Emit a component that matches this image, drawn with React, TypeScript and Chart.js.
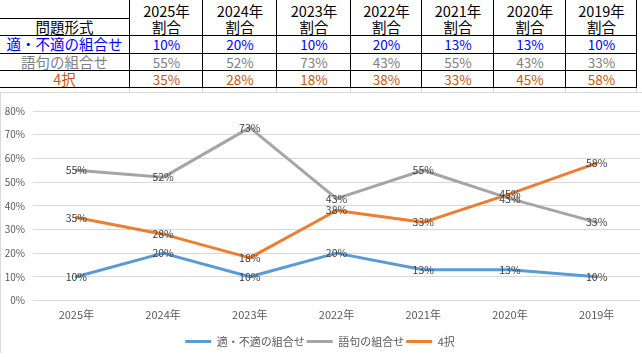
import React, { useEffect, useRef } from "react";
import { Chart, registerables } from "chart.js";

Chart.register(...registerables);

// ---- data ----
const years = ["2025年", "2024年", "2023年", "2022年", "2021年", "2020年", "2019年"];
const seriesNames = ["適・不適の組合せ", "語句の組合せ", "4択"];
const tekiFuteki = [10, 20, 10, 20, 13, 13, 10];
const gokuKumiawase = [55, 52, 73, 43, 55, 43, 33];
const yonTaku = [35, 28, 18, 38, 33, 45, 58];
const headerLabel = "問題形式";
const ratioLabel = "割合";
const yMin = 0;
const yMax = 80;
const yStep = 10;

// ---- styles ----
const lineColors = ["#5B9BD5", "#A5A5A5", "#ED7D31"];
const textColors = ["#0000FF", "#808080", "#C65911"];
const FONT = '"Noto Sans CJK JP", "Noto Sans", sans-serif';
const colEdges = [0, 129, 202, 276, 350, 421, 493, 565, 636];
const rowCenters = [45, 62.5, 80];

const valuePlugin = {
  id: "valueLabels",
  afterDatasetsDraw(chart: any) {
    const ctx = chart.ctx;
    ctx.save();
    ctx.font = `10.5px ${FONT}`;
    ctx.fillStyle = "#404040";
    ctx.textAlign = "center";
    ctx.textBaseline = "middle";
    chart.data.datasets.forEach((ds: any, i: number) => {
      const meta = chart.getDatasetMeta(i);
      meta.data.forEach((pt: any, j: number) => {
        ctx.fillText(`${ds.data[j]}%`, pt.x, pt.y);
      });
    });
    ctx.restore();
  },
};

function Txt(props: { x: number; y: number; w: number; color: string; size?: number; children: any }) {
  return (
    <div
      style={{
        position: "absolute",
        left: props.x,
        top: props.y - 11,
        width: props.w,
        height: 20,
        lineHeight: "20px",
        textAlign: "center",
        fontSize: props.size || 14.5,
        fontFamily: FONT,
        color: props.color,
        whiteSpace: "nowrap",
      }}
    >
      {props.children}
    </div>
  );
}

export default function App() {
  const canvasRef = useRef<HTMLCanvasElement | null>(null);

  useEffect(() => {
    if (!canvasRef.current) return;
    const allSeries = [tekiFuteki, gokuKumiawase, yonTaku];
    const chart = new Chart(canvasRef.current, {
      type: "line",
      data: {
        labels: years,
        datasets: allSeries.map((d, i) => ({
          label: seriesNames[i],
          data: d,
          borderColor: lineColors[i],
          backgroundColor: lineColors[i],
          borderWidth: 3,
          pointRadius: 0,
          pointHoverRadius: 0,
          tension: 0,
          borderCapStyle: "round",
          borderJoinStyle: "round",
          pointStyle: "line",
        })),
      },
      options: {
        animation: false,
        responsive: true,
        maintainAspectRatio: false,
        layout: { padding: { top: 18, right: 2, bottom: 0, left: 0 } },
        plugins: {
          tooltip: { enabled: false },
          legend: {
            position: "bottom",
            labels: {
              usePointStyle: true,
              pointStyleWidth: 26,
              padding: 2,
              color: "#595959",
              font: { family: FONT, size: 11 },
            },
          },
        },
        scales: {
          x: {
            offset: true,
            grid: { display: false, drawTicks: false },
            border: { display: false },
            ticks: { color: "#595959", font: { family: FONT, size: 11 }, padding: 8, maxRotation: 0 },
            afterFit: (s: any) => {
              s.height = 33.5;
            },
          },
          y: {
            min: yMin,
            max: yMax,
            grid: { color: "#D9D9D9", drawTicks: false },
            border: { display: false },
            ticks: {
              stepSize: yStep,
              color: "#595959",
              padding: 8,
              font: { family: FONT, size: 10 },
              callback: (v: any) => `${v}%`,
            },
            afterFit: (s: any) => {
              s.width = 33;
            },
          },
        },
      } as any,
      plugins: [valuePlugin],
    });
    return () => chart.destroy();
  }, []);

  const rows = [tekiFuteki, gokuKumiawase, yonTaku];
  const lines: any[] = [];
  colEdges.slice(1).forEach((x, i) =>
    lines.push(
      <div key={"v" + i} style={{ position: "absolute", left: x, top: 0, width: 1, height: 88, background: "#000" }} />
    )
  );
  lines.push(<div key="h0" style={{ position: "absolute", left: 0, top: 18, width: 129, height: 1, background: "#000" }} />);
  [35, 53, 70, 87].forEach((y, i) =>
    lines.push(
      <div key={"h" + (i + 1)} style={{ position: "absolute", left: 0, top: y, width: 637, height: 1, background: "#000" }} />
    )
  );
  colEdges.slice(1).forEach((x, i) =>
    lines.push(
      <div key={"g" + i} style={{ position: "absolute", left: x, top: 88, width: 1, height: 4, background: "#D4D4D4" }} />
    )
  );

  const texts: any[] = [];
  texts.push(
    <Txt key="hdr" x={0} y={28} w={129} color="#000">
      {headerLabel}
    </Txt>
  );
  years.forEach((yr, c) => {
    const x0 = colEdges[c + 1] + 1;
    const w = colEdges[c + 2] - colEdges[c + 1];
    texts.push(
      <Txt key={"y" + c} x={x0} y={12} w={w} color="#000">
        {yr}
      </Txt>
    );
    texts.push(
      <Txt key={"r" + c} x={x0} y={28} w={w} color="#000">
        {ratioLabel}
      </Txt>
    );
  });
  seriesNames.forEach((name, r) => {
    texts.push(
      <Txt key={"n" + r} x={0} y={rowCenters[r]} w={129} color={textColors[r]}>
        {name}
      </Txt>
    );
    rows[r].forEach((v, c) => {
      const x0 = colEdges[c + 1] + 1;
      const w = colEdges[c + 2] - colEdges[c + 1];
      texts.push(
        <Txt key={"d" + r + "_" + c} x={x0} y={rowCenters[r]} w={w} color={textColors[r]} size={13.5}>
          {`${v}%`}
        </Txt>
      );
    });
  });

  return (
    <div style={{ position: "fixed", left: 0, top: 0, width: 642, height: 357, overflow: "hidden", background: "#fff" }}>
      {lines}
      {texts}
      <div style={{ position: "absolute", left: 0, top: 93, width: 642, height: 264 }}>
        <canvas ref={canvasRef} />
      </div>
      <div style={{ position: "absolute", left: 0, top: 92, width: 642, height: 1, background: "#D9D9D9" }} />
      <div style={{ position: "absolute", left: 0, top: 92, width: 1, height: 261, background: "#D9D9D9" }} />
    </div>
  );
}
